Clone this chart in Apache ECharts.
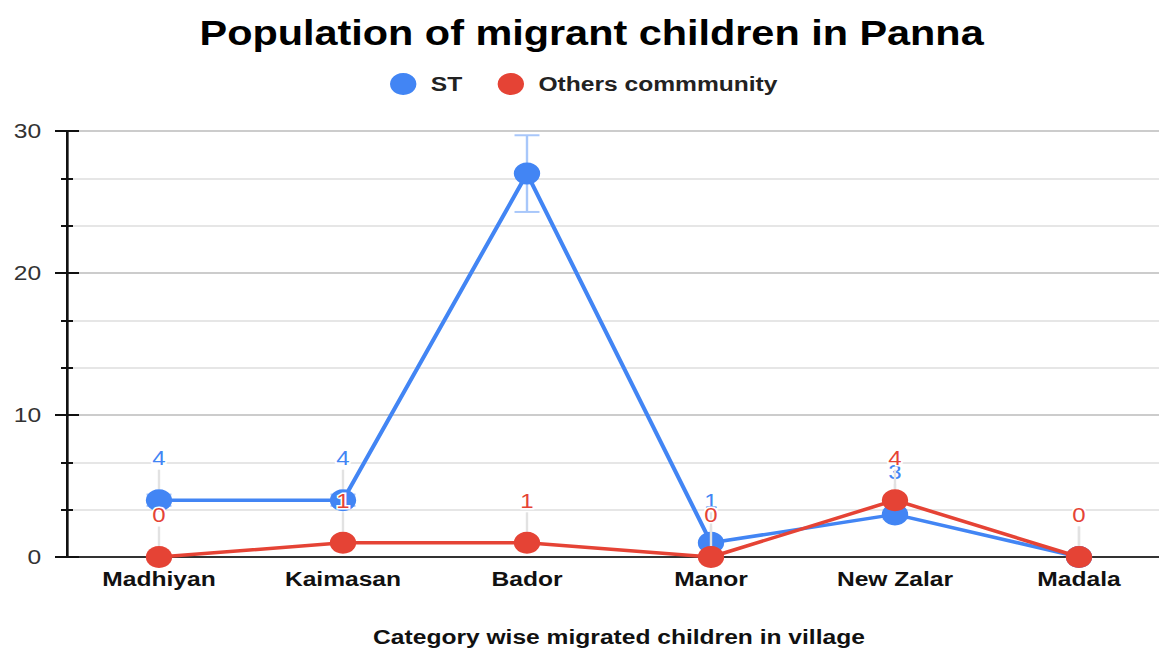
<!DOCTYPE html>
<html>
<head>
<meta charset="utf-8">
<script src="https://cdn.jsdelivr.net/npm/echarts@6/dist/echarts.min.js"></script>
<style>
  html, body { margin: 0; padding: 0; background: #fff; overflow: hidden; }
  /* the chart is laid out on a narrower canvas and widened horizontally */
  #chart { width: 966px; height: 648px; transform: scaleX(1.2); transform-origin: 0 0; }
</style>
</head>
<body>
<div id="chart"></div>
<script>
// Villages along the x axis
const villages = ['Madhiyan', 'Kaimasan', 'Bador', 'Manor', 'New Zalar', 'Madala'];
// Migrated children per village
const stValues = [4, 4, 27, 1, 3, 0];
const othersValues = [0, 1, 1, 0, 4, 0];
// Error margins shown as whiskers on the ST series
const stErrors = [0.4, 0.4, 2.7, 0.1, 0.3, 0];
// Value axis ticks
const yTicks = [0, 10, 20, 30];

const BLUE = '#4285F4';
const RED = '#E54335';
const FONT = 'Arial, "Liberation Sans", sans-serif';

const chart = echarts.init(document.getElementById('chart'), null, { renderer: 'svg' });

function labelFor(color) {
  return {
    show: true,
    position: 'inside',
    color: color,
    fontSize: 20,
    fontFamily: FONT,
    textBorderColor: '#fff',
    textBorderWidth: 3
  };
}

const yAxisBase = {
  type: 'value',
  min: yTicks[0],
  max: yTicks[yTicks.length - 1],
  interval: yTicks[1] - yTicks[0],
  position: 'left',
  axisLine: { show: true, onZero: false, lineStyle: { color: '#111', width: 2 } }
};

const labelGuide = { show: true, lineStyle: { color: '#e2e2e2', width: 2 } };

chart.setOption({
  animation: false,
  title: {
    text: 'Population of migrant children in Panna',
    left: 488,
    top: 11,
    textAlign: 'center',
    textStyle: { fontSize: 34.5, fontWeight: 'bold', color: '#000', fontFamily: FONT }
  },
  legend: {
    top: 68,
    left: 320,
    itemWidth: 36,
    itemHeight: 22,
    itemGap: 29.5,
    icon: 'circle',
    textStyle: { fontSize: 20.5, fontWeight: 'bold', color: '#222', fontFamily: FONT },
    data: ['ST', 'Others commmunity']
  },
  grid: { left: 55.83, top: 131, width: 920, height: 426, containLabel: false, outerBoundsMode: 'none' },
  xAxis: {
    type: 'category',
    data: villages,
    boundaryGap: true,
    name: 'Category wise migrated children in village',
    nameLocation: 'middle',
    nameGap: 70,
    nameTextStyle: { fontSize: 20.5, fontWeight: 'bold', color: '#111', fontFamily: FONT },
    axisLine: { show: true, lineStyle: { color: '#333', width: 2 } },
    axisTick: { show: false },
    axisLabel: { fontSize: 20.5, fontWeight: 'bold', color: '#111', margin: 12, fontFamily: FONT },
    splitLine: { show: false }
  },
  yAxis: [
    Object.assign({}, yAxisBase, {
      axisTick: { show: true, inside: false, length: 10, lineStyle: { color: '#111', width: 2 } },
      minorTick: { show: true, splitNumber: 3, length: 5, lineStyle: { color: '#111', width: 2 } },
      axisLabel: { fontSize: 20.5, color: '#333', margin: 21.5, fontFamily: FONT },
      splitLine: { show: true, lineStyle: { color: '#ccc', width: 2 } },
      minorSplitLine: { show: true, lineStyle: { color: '#e6e6e6', width: 2 } }
    }),
    Object.assign({}, yAxisBase, {
      axisTick: { show: true, inside: true, length: 10, lineStyle: { color: '#111', width: 2 } },
      minorTick: { show: true, splitNumber: 3, length: 5, lineStyle: { color: '#111', width: 2 } },
      axisLabel: { show: false },
      splitLine: { show: false }
    })
  ],
  series: [
    {
      // whiskers for the ST series
      type: 'custom',
      name: 'ST error',
      silent: true,
      z: 1,
      data: stValues.map((v, i) => [i, v - stErrors[i], v + stErrors[i]]),
      renderItem: function (params, api) {
        const x = api.coord([api.value(0), 0])[0];
        const lo = api.coord([api.value(0), api.value(1)])[1];
        const hi = api.coord([api.value(0), api.value(2)])[1];
        const half = 10.4;
        const style = { stroke: '#a8c7fa', lineWidth: 2 };
        return {
          type: 'group',
          children: [
            { type: 'line', shape: { x1: x, y1: lo, x2: x, y2: hi }, style: style },
            { type: 'line', shape: { x1: x - half, y1: hi, x2: x + half, y2: hi }, style: style },
            { type: 'line', shape: { x1: x - half, y1: lo, x2: x + half, y2: lo }, style: style }
          ]
        };
      }
    },
    {
      name: 'ST',
      type: 'line',
      data: stValues.map((v, i) => i === 2 ? { value: v, label: { show: false }, labelLine: { show: false } } : v),
      color: BLUE,
      symbol: 'circle',
      symbolSize: 22,
      clip: false,
      z: 3,
      lineStyle: { width: 3.5, color: BLUE },
      itemStyle: { color: BLUE },
      label: labelFor(BLUE),
      labelLayout: { dy: -42 },
      labelLine: labelGuide
    },
    {
      name: 'Others commmunity',
      type: 'line',
      data: othersValues,
      color: RED,
      symbol: 'circle',
      symbolSize: 22,
      clip: false,
      z: 4,
      lineStyle: { width: 3.5, color: RED },
      itemStyle: { color: RED },
      label: labelFor(RED),
      labelLayout: { dy: -42 },
      labelLine: labelGuide
    }
  ]
});
</script>
</body>
</html>
